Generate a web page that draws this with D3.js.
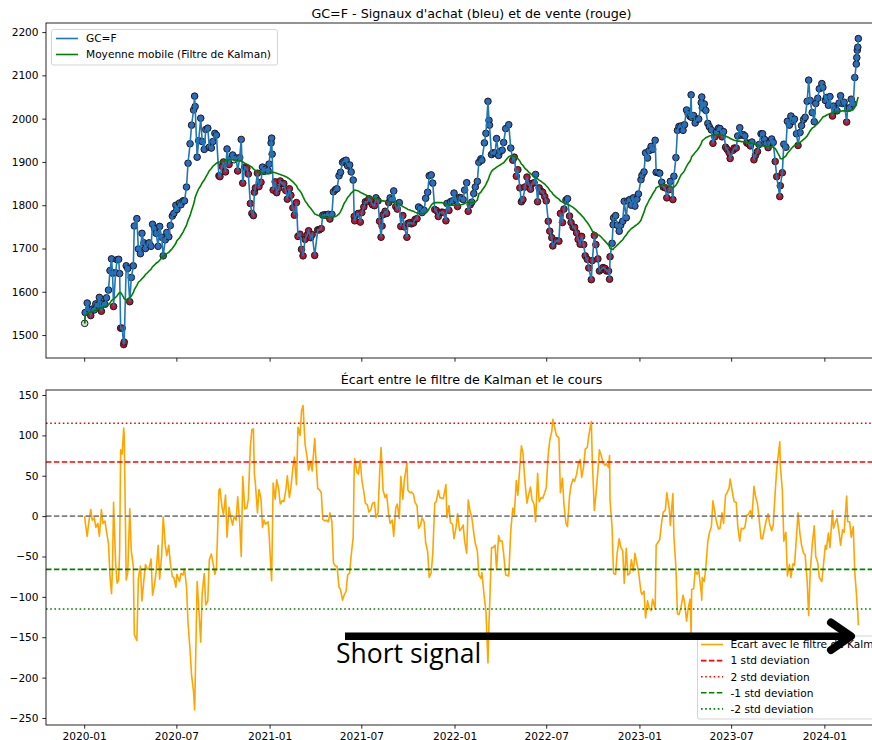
<!DOCTYPE html>
<html>
<head>
<meta charset="utf-8">
<script src="https://cdn.jsdelivr.net/npm/d3@7"></script>
<style>
  html, body { margin: 0; padding: 0; background: #fff; overflow: hidden; }
  svg { display: block; font-family: "DejaVu Sans", sans-serif; }
</style>
</head>
<body>
<svg id="chart" width="872" height="740"></svg>
<script>
// GC=F closing prices (gold futures) and their Kalman-filtered moving average.
// One line per month in each array.
const dates = [
  // 2020
  "2020-01-02","2020-01-03","2020-01-07","2020-01-10","2020-01-14","2020-01-17","2020-01-21","2020-01-24","2020-01-28","2020-01-31",
  "2020-02-04","2020-02-07","2020-02-11","2020-02-14","2020-02-18","2020-02-21","2020-02-24","2020-02-26","2020-02-28",
  "2020-03-03","2020-03-06","2020-03-09","2020-03-11","2020-03-13","2020-03-16","2020-03-19","2020-03-20","2020-03-24","2020-03-27","2020-03-31",
  "2020-04-03","2020-04-07","2020-04-09","2020-04-14","2020-04-17","2020-04-21","2020-04-24","2020-04-28",
  "2020-05-01","2020-05-05","2020-05-08","2020-05-12","2020-05-15","2020-05-19","2020-05-22","2020-05-26","2020-05-29",
  "2020-06-02","2020-06-05","2020-06-09","2020-06-12","2020-06-16","2020-06-19","2020-06-23","2020-06-26","2020-06-30",
  "2020-07-02","2020-07-07","2020-07-10","2020-07-14","2020-07-17","2020-07-21","2020-07-24","2020-07-28","2020-07-31",
  "2020-08-04","2020-08-06","2020-08-07","2020-08-11","2020-08-14","2020-08-18","2020-08-21","2020-08-25","2020-08-28",
  "2020-09-01","2020-09-04","2020-09-08","2020-09-11","2020-09-15","2020-09-18","2020-09-23","2020-09-25","2020-09-29",
  "2020-10-02","2020-10-06","2020-10-09","2020-10-13","2020-10-16","2020-10-20","2020-10-23","2020-10-27","2020-10-30",
  "2020-11-03","2020-11-06","2020-11-09","2020-11-13","2020-11-17","2020-11-20","2020-11-24","2020-11-27","2020-11-30",
  "2020-12-02","2020-12-04","2020-12-08","2020-12-11","2020-12-15","2020-12-18","2020-12-21","2020-12-24","2020-12-29","2020-12-31",
  // 2021
  "2021-01-04","2021-01-05","2021-01-06","2021-01-08","2021-01-12","2021-01-15","2021-01-19","2021-01-22","2021-01-26","2021-01-29",
  "2021-02-02","2021-02-05","2021-02-09","2021-02-12","2021-02-16","2021-02-19","2021-02-23","2021-02-26",
  "2021-03-02","2021-03-05","2021-03-08","2021-03-12","2021-03-16","2021-03-19","2021-03-23","2021-03-26","2021-03-31",
  "2021-04-06","2021-04-09","2021-04-13","2021-04-16","2021-04-20","2021-04-23","2021-04-27","2021-04-30",
  "2021-05-04","2021-05-07","2021-05-11","2021-05-14","2021-05-18","2021-05-21","2021-05-25","2021-05-28",
  "2021-06-01","2021-06-04","2021-06-08","2021-06-11","2021-06-15","2021-06-17","2021-06-18","2021-06-22","2021-06-25","2021-06-29",
  "2021-07-02","2021-07-06","2021-07-09","2021-07-13","2021-07-16","2021-07-20","2021-07-23","2021-07-27","2021-07-30",
  "2021-08-03","2021-08-06","2021-08-09","2021-08-11","2021-08-13","2021-08-17","2021-08-20","2021-08-24","2021-08-27","2021-08-31",
  "2021-09-03","2021-09-07","2021-09-10","2021-09-14","2021-09-17","2021-09-21","2021-09-24","2021-09-29",
  "2021-10-01","2021-10-05","2021-10-08","2021-10-12","2021-10-15","2021-10-19","2021-10-22","2021-10-26","2021-10-29",
  "2021-11-02","2021-11-05","2021-11-09","2021-11-12","2021-11-16","2021-11-19","2021-11-23","2021-11-26","2021-11-30",
  "2021-12-03","2021-12-07","2021-12-10","2021-12-15","2021-12-17","2021-12-21","2021-12-24","2021-12-28","2021-12-31",
  // 2022
  "2022-01-04","2022-01-07","2022-01-11","2022-01-14","2022-01-18","2022-01-21","2022-01-25","2022-01-28",
  "2022-02-01","2022-02-04","2022-02-08","2022-02-11","2022-02-15","2022-02-18","2022-02-22","2022-02-24",
  "2022-03-01","2022-03-04","2022-03-08","2022-03-10","2022-03-11","2022-03-15","2022-03-18","2022-03-22","2022-03-25","2022-03-29",
  "2022-04-01","2022-04-05","2022-04-08","2022-04-12","2022-04-18","2022-04-22","2022-04-26","2022-04-29",
  "2022-05-03","2022-05-06","2022-05-10","2022-05-13","2022-05-16","2022-05-20","2022-05-24","2022-05-27","2022-05-31",
  "2022-06-03","2022-06-07","2022-06-10","2022-06-14","2022-06-17","2022-06-21","2022-06-24","2022-06-28",
  "2022-07-01","2022-07-05","2022-07-08","2022-07-12","2022-07-14","2022-07-21","2022-07-26","2022-07-29",
  "2022-08-02","2022-08-05","2022-08-09","2022-08-12","2022-08-16","2022-08-19","2022-08-23","2022-08-26","2022-08-30",
  "2022-09-02","2022-09-06","2022-09-09","2022-09-13","2022-09-16","2022-09-20","2022-09-23","2022-09-28","2022-09-30",
  "2022-10-04","2022-10-07","2022-10-11","2022-10-14","2022-10-18","2022-10-21","2022-10-25","2022-10-28",
  "2022-11-01","2022-11-03","2022-11-04","2022-11-08","2022-11-10","2022-11-11","2022-11-15","2022-11-18","2022-11-22","2022-11-25","2022-11-29",
  "2022-12-02","2022-12-06","2022-12-09","2022-12-13","2022-12-16","2022-12-20","2022-12-23","2022-12-27","2022-12-30",
  // 2023
  "2023-01-04","2023-01-06","2023-01-10","2023-01-13","2023-01-17","2023-01-20","2023-01-24","2023-01-27",
  "2023-02-01","2023-02-03","2023-02-07","2023-02-10","2023-02-14","2023-02-17","2023-02-21","2023-02-24",
  "2023-03-01","2023-03-03","2023-03-08","2023-03-10","2023-03-14","2023-03-17","2023-03-20","2023-03-24","2023-03-28","2023-03-31",
  "2023-04-04","2023-04-07","2023-04-11","2023-04-13","2023-04-14","2023-04-18","2023-04-21","2023-04-25","2023-04-28",
  "2023-05-03","2023-05-04","2023-05-05","2023-05-09","2023-05-12","2023-05-16","2023-05-19","2023-05-23","2023-05-26","2023-05-30",
  "2023-06-02","2023-06-06","2023-06-09","2023-06-13","2023-06-16","2023-06-20","2023-06-23","2023-06-27","2023-06-29",
  "2023-07-05","2023-07-07","2023-07-11","2023-07-14","2023-07-18","2023-07-21","2023-07-25","2023-07-28",
  "2023-08-01","2023-08-04","2023-08-08","2023-08-11","2023-08-15","2023-08-18","2023-08-22","2023-08-25","2023-08-29",
  "2023-09-01","2023-09-05","2023-09-08","2023-09-12","2023-09-15","2023-09-19","2023-09-22","2023-09-26","2023-09-29",
  "2023-10-05","2023-10-06","2023-10-10","2023-10-13","2023-10-17","2023-10-20","2023-10-24","2023-10-27","2023-10-31",
  "2023-11-03","2023-11-07","2023-11-10","2023-11-14","2023-11-17","2023-11-21","2023-11-24","2023-11-28",
  "2023-12-01","2023-12-04","2023-12-08","2023-12-12","2023-12-15","2023-12-19","2023-12-22","2023-12-27","2023-12-29",
  // 2024
  "2024-01-03","2024-01-05","2024-01-09","2024-01-12","2024-01-17","2024-01-19","2024-01-23","2024-01-26","2024-01-30",
  "2024-02-02","2024-02-06","2024-02-09","2024-02-14","2024-02-16","2024-02-20","2024-02-23","2024-02-27",
  "2024-03-01","2024-03-04","2024-03-05","2024-03-06","2024-03-07","2024-03-08"
];

const closePrices = [
  // 2020
  1527,1552,1574,1560,1545,1560,1558,1572,1569,1587,
  1555,1573,1571,1586,1604,1649,1676,1643,1566,
  1644,1674,1675,1642,1516,1516,1478,1484,1660,1654,1577,
  1633,1660,1752,1769,1699,1688,1735,1713,
  1700,1710,1713,1705,1756,1746,1735,1705,1751,
  1726,1683,1720,1737,1727,1753,1775,1781,1800,
  1790,1805,1801,1810,1810,1842,1897,1942,1985,
  2020,2052,2028,1911,1949,2001,1947,1929,1975,
  1978,1934,1932,1947,1966,1962,1868,1866,1890,
  1900,1877,1930,1894,1906,1916,1905,1909,1879,
  1910,1952,1851,1888,1885,1872,1804,1781,1776,
  1830,1840,1874,1843,1853,1888,1878,1883,1880,1895,
  // 2021
  1944,1955,1918,1835,1854,1829,1839,1856,1850,1850,
  1834,1814,1838,1823,1794,1777,1806,1728,
  1733,1698,1683,1721,1731,1741,1725,1732,1684,
  1743,1743,1746,1777,1778,1777,1779,1768,
  1779,1831,1836,1838,1868,1876,1899,1902,
  1904,1891,1893,1877,1858,1774,1764,1779,1781,1761,
  1783,1796,1808,1808,1815,1810,1801,1799,1817,
  1810,1763,1726,1752,1778,1786,1781,1806,1817,1813,
  1833,1797,1791,1806,1751,1776,1750,1726,
  1758,1760,1757,1759,1767,1769,1796,1792,1783,
  1788,1816,1830,1868,1870,1851,1790,1788,1774,
  1783,1784,1783,1764,1804,1788,1808,1810,1828,
  // 2022
  1814,1797,1818,1817,1813,1835,1852,1786,
  1801,1807,1827,1842,1855,1899,1907,1904,
  1944,1966,2040,1996,1985,1917,1921,1921,1954,1915,
  1924,1927,1945,1977,1986,1932,1904,1911,
  1867,1882,1840,1808,1813,1842,1865,1851,1837,
  1850,1852,1871,1808,1840,1832,1830,1820,
  1810,1763,1740,1725,1706,1718,1717,1781,
  1760,1791,1812,1815,1775,1760,1749,1749,1736,
  1721,1710,1728,1709,1683,1675,1655,1628,1672,
  1730,1709,1676,1648,1652,1656,1654,1648,
  1648,1629,1681,1712,1755,1771,1776,1754,1740,1754,1763,
  1809,1771,1810,1813,1800,1817,1798,1814,1826,
  // 2023
  1859,1869,1877,1921,1909,1926,1936,1929,
  1950,1876,1875,1874,1853,1842,1840,1817,
  1836,1855,1813,1867,1910,1973,1982,1983,1973,1986,
  2020,2011,2005,2055,2003,2007,1990,1999,1999,
  2037,2050,2025,2034,2019,1989,1981,1974,1943,1958,
  1969,1978,1977,1958,1970,1934,1929,1921,1908,
  1927,1932,1932,1960,1979,1962,1963,1960,
  1944,1942,1937,1946,1905,1915,1924,1940,1965,
  1965,1952,1942,1933,1945,1953,1945,1901,1866,
  1820,1845,1875,1941,1934,1994,1985,2006,1994,
  1999,1965,1938,1968,1984,1998,2003,2040,
  2089,2042,2014,1993,2035,2047,2069,2081,2072,
  // 2024
  2042,2049,2031,2051,2006,2029,2022,2018,2036,
  2053,2035,2038,1992,2024,2025,2045,2034,
  2095,2126,2141,2158,2165,2185
];

const kalmanValues = [
  // 2020
  1527,1545,1549,1552,1553,1555,1556,1558,1560,1562,
  1563,1564,1565,1567,1570,1574,1580,1582,1583,
  1587,1591,1596,1598,1598,1593,1587,1584,1581,1584,1586,
  1590,1598,1605,1615,1622,1626,1630,1635,
  1640,1644,1648,1652,1658,1662,1666,1669,1673,
  1678,1682,1685,1688,1691,1695,1700,1705,1712,
  1718,1724,1730,1737,1745,1754,1765,1776,1788,
  1802,1812,1818,1830,1838,1845,1852,1858,1865,
  1873,1880,1885,1890,1894,1897,1900,1900,1901,
  1902,1903,1904,1905,1905,1905,1905,1904,1903,
  1902,1902,1900,1897,1895,1893,1890,1888,1884,
  1882,1880,1878,1876,1875,1874,1873,1873,1873,1873,
  // 2021
  1874,1875,1876,1876,1875,1874,1872,1871,1869,1868,
  1866,1864,1861,1858,1854,1850,1845,1838,
  1833,1828,1820,1810,1804,1798,1793,1788,1780,
  1777,1776,1775,1773,1772,1772,1772,1772,
  1772,1773,1774,1776,1780,1785,1795,1804,
  1811,1818,1823,1828,1832,1834,1835,1834,1833,1830,
  1828,1826,1824,1822,1820,1818,1817,1816,1815,
  1814,1813,1811,1810,1810,1809,1808,1808,1808,1808,
  1808,1807,1806,1803,1800,1797,1795,1792,
  1790,1789,1787,1786,1784,1782,1781,1781,1781,
  1781,1783,1786,1792,1800,1804,1806,1806,1806,
  1806,1806,1805,1803,1802,1801,1800,1800,1800,
  // 2022
  1800,1800,1800,1801,1802,1804,1806,1806,
  1806,1806,1806,1808,1812,1826,1830,1834,
  1842,1848,1858,1864,1868,1878,1882,1885,1888,1891,
  1893,1896,1898,1904,1912,1914,1914,1913,
  1911,1908,1902,1895,1892,1885,1881,1877,1873,
  1870,1867,1864,1861,1858,1855,1852,1849,
  1845,1840,1834,1830,1826,1818,1814,1810,
  1807,1805,1803,1802,1800,1798,1795,1792,1788,
  1784,1780,1776,1771,1766,1760,1755,1745,1740,
  1737,1735,1732,1730,1726,1722,1717,1713,
  1708,1704,1700,1698,1698,1700,1704,1708,1712,1716,1720,
  1726,1731,1737,1742,1746,1749,1752,1755,1758,
  // 2023
  1765,1772,1784,1795,1804,1812,1819,1826,
  1835,1840,1843,1845,1846,1847,1847,1846,
  1844,1843,1841,1842,1846,1852,1860,1870,1875,1880,
  1890,1896,1902,1908,1912,1917,1922,1927,1932,
  1942,1946,1949,1953,1956,1958,1960,1961,1962,1962,
  1962,1962,1962,1962,1961,1960,1958,1956,1954,
  1951,1950,1949,1948,1948,1947,1947,1946,
  1945,1944,1944,1943,1942,1940,1939,1938,1937,
  1937,1937,1936,1936,1935,1935,1934,1931,1925,
  1912,1908,1907,1910,1914,1920,1925,1930,1935,
  1938,1940,1942,1945,1948,1952,1955,1960,
  1966,1972,1978,1981,1985,1989,1993,2000,2004,
  // 2024
  2006,2008,2010,2012,2013,2014,2015,2015,2016,
  2017,2018,2018,2017,2017,2018,2019,2021,
  2026,2032,2038,2043,2047,2050
];

// Axis tick values
const priceTicks = [1500, 1600, 1700, 1800, 1900, 2000, 2100, 2200];
const ecartTicks = [-250, -200, -150, -100, -50, 0, 50, 100, 150];

// Standard-deviation levels of the gap series
const stdPlus1 = 67, stdPlus2 = 115, stdMinus1 = -66, stdMinus2 = -115;

const parse = d3.timeParse("%Y-%m-%d");
const n = Math.min(dates.length, closePrices.length, kalmanValues.length);
const data = d3.range(n).map(i => ({
  date: parse(dates[i]),
  price: closePrices[i],
  kalman: kalmanValues[i],
  ecart: kalmanValues[i] - closePrices[i]   // gap = filter - price
}));

const svg = d3.select("#chart");
const axLeft = 46, axRight = 897;
const top1 = 23, bot1 = 358, top2 = 390, bot2 = 725;
const fontTick = 10.6;

// Time scale with 5% margins on each side of the data range
const first = data[0].date, last = data[n - 1].date;
const pad = (last - first) * 0.05;
const x = d3.scaleTime()
  .domain([new Date(+first - pad), new Date(+last + pad)])
  .range([axLeft, axRight]);

const y1 = d3.scaleLinear().domain([1447, 2221]).range([bot1, top1]);
const y2 = d3.scaleLinear().domain([-258.7, 156.2]).range([bot2, top2]);

const defs = svg.append("defs");
defs.append("clipPath").attr("id", "clip1")
  .append("rect").attr("x", axLeft).attr("y", top1).attr("width", axRight - axLeft).attr("height", bot1 - top1);
defs.append("clipPath").attr("id", "clip2")
  .append("rect").attr("x", axLeft).attr("y", top2).attr("width", axRight - axLeft).attr("height", bot2 - top2);

function styleAxis(g) {
  g.select(".domain").remove();
  g.selectAll(".tick line").attr("stroke", "#000").attr("stroke-width", 0.85);
  g.selectAll(".tick text").attr("fill", "#000").attr("font-size", fontTick)
    .attr("font-family", "DejaVu Sans, sans-serif");
}

// ---------- Top panel: price with buy / sell markers ----------
const p1 = svg.append("g");

p1.append("g").attr("transform", `translate(${axLeft},0)`)
  .call(d3.axisLeft(y1).tickValues(priceTicks).tickFormat(d3.format("d")).tickSize(3.7).tickPadding(3.7))
  .call(styleAxis);

p1.append("g").attr("transform", `translate(0,${bot1})`)
  .call(d3.axisBottom(x).ticks(d3.timeMonth.every(6)).tickFormat("").tickSize(3.7))
  .call(styleAxis);

const plot1 = p1.append("g").attr("clip-path", "url(#clip1)");

// markers: blue where the price is above the filter, red below
plot1.append("g").selectAll("circle").data(data).join("circle")
  .attr("cx", d => x(d.date))
  .attr("cy", d => y1(d.price))
  .attr("r", 3.3)
  .attr("fill", d => d.ecart < 0 ? "#3366c4" : d.ecart > 0 ? "#c8102e" : "#d9d9d9")
  .attr("stroke", "#1a1a1a")
  .attr("stroke-width", 1);

plot1.append("path").datum(data)
  .attr("fill", "none").attr("stroke", "#1f77b4").attr("stroke-width", 1.6)
  .attr("d", d3.line().x(d => x(d.date)).y(d => y1(d.price)));

plot1.append("path").datum(data)
  .attr("fill", "none").attr("stroke", "#008000").attr("stroke-width", 1.6)
  .attr("d", d3.line().x(d => x(d.date)).y(d => y1(d.kalman)));

p1.append("rect").attr("x", axLeft).attr("y", top1)
  .attr("width", axRight - axLeft).attr("height", bot1 - top1)
  .attr("fill", "none").attr("stroke", "#000").attr("stroke-width", 0.85);

p1.append("text").attr("x", (axLeft + axRight) / 2).attr("y", 17.5)
  .attr("text-anchor", "middle").attr("font-size", 12.7)
  .text("GC=F - Signaux d'achat (bleu) et de vente (rouge)");

// legend (top)
const lg1 = p1.append("g");
lg1.append("rect").attr("x", 51.5).attr("y", 29.5).attr("width", 226).attr("height", 35.5)
  .attr("rx", 2).attr("fill", "#fff").attr("fill-opacity", 0.8)
  .attr("stroke", "#cccccc").attr("stroke-width", 0.85);
const legend1Items = [
  { label: "GC=F", color: "#1f77b4" },
  { label: "Moyenne mobile (Filtre de Kalman)", color: "#008000" }
];
legend1Items.forEach((it, i) => {
  const yy = 38.5 + i * 16;
  lg1.append("line").attr("x1", 56).attr("x2", 78).attr("y1", yy).attr("y2", yy)
    .attr("stroke", it.color).attr("stroke-width", 1.6);
  lg1.append("text").attr("x", 86).attr("y", yy + 3.8).attr("font-size", fontTick).text(it.label);
});

// ---------- Bottom panel: gap between filter and price ----------
const p2 = svg.append("g");

p2.append("g").attr("transform", `translate(${axLeft},0)`)
  .call(d3.axisLeft(y2).tickValues(ecartTicks).tickFormat(d3.format("d")).tickSize(3.7).tickPadding(3.7))
  .call(styleAxis);

p2.append("g").attr("transform", `translate(0,${bot2})`)
  .call(d3.axisBottom(x).ticks(d3.timeMonth.every(6)).tickFormat(d3.timeFormat("%Y-%m")).tickSize(3.7).tickPadding(3.7))
  .call(styleAxis);

const plot2 = p2.append("g").attr("clip-path", "url(#clip2)");

const refLines = [
  { value: 0, color: "#808080", dash: "5.5,2.4" },
  { value: stdPlus1, color: "#ff0000", dash: "5.5,2.4" },
  { value: stdPlus2, color: "#ff0000", dash: "1.6,2.6" },
  { value: stdMinus1, color: "#008000", dash: "5.5,2.4" },
  { value: stdMinus2, color: "#008000", dash: "1.6,2.6" }
];

plot2.append("path").datum(data)
  .attr("fill", "none").attr("stroke", "#ffa500").attr("stroke-width", 1.6)
  .attr("stroke-linejoin", "round")
  .attr("d", d3.line().x(d => x(d.date)).y(d => y2(d.ecart)));

plot2.append("g").selectAll("line").data(refLines).join("line")
  .attr("x1", axLeft).attr("x2", axRight)
  .attr("y1", d => y2(d.value)).attr("y2", d => y2(d.value))
  .attr("stroke", d => d.color).attr("stroke-width", 1.6)
  .attr("stroke-dasharray", d => d.dash);

p2.append("rect").attr("x", axLeft).attr("y", top2)
  .attr("width", axRight - axLeft).attr("height", bot2 - top2)
  .attr("fill", "none").attr("stroke", "#000").attr("stroke-width", 0.85);

p2.append("text").attr("x", (axLeft + axRight) / 2).attr("y", 384)
  .attr("text-anchor", "middle").attr("font-size", 12.7)
  .text("Écart entre le filtre de Kalman et le cours");

// legend (bottom)
const lg2 = p2.append("g");
lg2.append("rect").attr("x", 697.5).attr("y", 636).attr("width", 200).attr("height", 83)
  .attr("rx", 2).attr("fill", "#fff").attr("fill-opacity", 0.8)
  .attr("stroke", "#cccccc").attr("stroke-width", 0.85);
const legend2Items = [
  { label: "Écart avec le filtre de Kalman", color: "#ffa500", dash: null },
  { label: "1 std deviation", color: "#ff0000", dash: "5.5,2.4" },
  { label: "2 std deviation", color: "#ff0000", dash: "1.6,2.6" },
  { label: "-1 std deviation", color: "#008000", dash: "5.5,2.4" },
  { label: "-2 std deviation", color: "#008000", dash: "1.6,2.6" }
];
legend2Items.forEach((it, i) => {
  const yy = 644.5 + i * 16.1;
  lg2.append("line").attr("x1", 701).attr("x2", 723).attr("y1", yy).attr("y2", yy)
    .attr("stroke", it.color).attr("stroke-width", 1.6)
    .attr("stroke-dasharray", it.dash);
  lg2.append("text").attr("x", 730.5).attr("y", yy + 3.8).attr("font-size", fontTick).text(it.label);
});

// ---------- Annotation ----------
const ann = svg.append("g");
ann.append("line").attr("x1", 345).attr("x2", 850).attr("y1", 636.3).attr("y2", 636.3)
  .attr("stroke", "#000").attr("stroke-width", 7.5);
ann.append("path")
  .attr("d", "M831,622.5 L851,636.3 L831,650")
  .attr("fill", "none").attr("stroke", "#000").attr("stroke-width", 8)
  .attr("stroke-linecap", "round").attr("stroke-linejoin", "round");
ann.append("text").attr("x", 336).attr("y", 663)
  .attr("font-family", "'Open Sans', sans-serif").attr("font-size", 26.5)
  .attr("fill", "#000").text("Short signal");
</script>
</body>
</html>
